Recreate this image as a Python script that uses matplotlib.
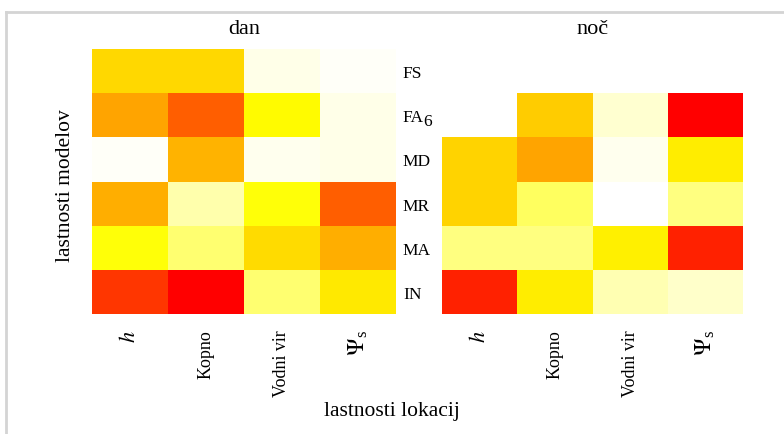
import numpy as np
import matplotlib
matplotlib.use("Agg")
import matplotlib.pyplot as plt
from matplotlib.colors import LinearSegmentedColormap
from matplotlib.lines import Line2D

plt.rcParams["font.family"] = ["Liberation Serif", "DejaVu Serif"]
plt.rcParams["mathtext.fontset"] = "stix"

# model properties (rows, top to bottom) and location properties (columns)
models = ["FS", "FA6", "MD", "MR", "MA", "IN"]
locations = [r"$h$", "Kopno", "Vodni vir", r"$\Psi_{\mathregular{s}}$"]

# relative importance, day
dan = [
    [0.41, 0.41, 0.03, 0.01],
    [0.55, 0.74, 0.31, 0.03],
    [0.01, 0.51, 0.02, 0.03],
    [0.52, 0.10, 0.29, 0.74],
    [0.29, 0.17, 0.40, 0.52],
    [0.85, 1.00, 0.17, 0.36],
]

# relative importance, night (missing combinations left empty)
noc = [
    [np.nan, np.nan, np.nan, np.nan],
    [np.nan, 0.44, 0.055, 1.00],
    [0.42, 0.55, 0.02, 0.35],
    [0.42, 0.19, 0.00, 0.15],
    [0.15, 0.15, 0.34, 0.91],
    [0.91, 0.35, 0.09, 0.065],
]

panel_titles = ["dan", "noč"]

# reversed heat palette: white -> yellow -> red
heat = LinearSegmentedColormap.from_list(
    "heat_r", [(0.0, "#FFFFFF"), (0.3, "#FFFF00"), (1.0, "#FF0000")]
)

W, H = 784, 435
fig = plt.figure(figsize=(W / 100, H / 100), dpi=100)

def frac(x0, y0, x1, y1):
    return [x0 / W, 1 - y1 / H, (x1 - x0) / W, (y1 - y0) / H]

axes = [
    fig.add_axes(frac(92, 50, 396, 315)),
    fig.add_axes(frac(442, 50, 743, 315)),
]

label_sizes = [16, 13, 13, 17]

for k, (ax, data, title) in enumerate(zip(axes, [dan, noc], panel_titles)):
    arr = np.ma.masked_invalid(np.array(data, dtype=float))
    ax.pcolormesh(arr, cmap=heat, vmin=0, vmax=1, edgecolor="none")
    ax.set_xlim(0, len(locations))
    ax.set_ylim(len(models), 0)
    for s in ax.spines.values():
        s.set_visible(False)
    ax.set_xticks(np.arange(len(locations)) + 0.5)
    ax.set_xticklabels(locations, rotation=90, va="top", ha="center")
    for lab, fs in zip(ax.get_xticklabels(), label_sizes):
        lab.set_fontsize(fs)
    ax.tick_params(axis="x", length=0, pad=11)
    ax.set_yticks([])
    if k == 0:
        # row labels to the right of the day panel; digit in FA6 set lower
        for i, name in enumerate(models):
            main = name[:-1] if name[-1].isdigit() else name
            t = ax.annotate(main, xy=(1, i + 0.5),
                            xycoords=("axes fraction", "data"),
                            xytext=(5, 0), textcoords="offset points",
                            fontsize=12.5, ha="left", va="center_baseline")
            if main != name:
                ax.annotate(name[-1], xy=(1, 0), xycoords=t,
                            xytext=(-0.5, 0), textcoords="offset points",
                            fontsize=12.5, ha="left", va="baseline")
    fig.text((ax.get_position().x0 + ax.get_position().x1) / 2, 1 - 30 / H,
             title, fontsize=16, ha="center", va="center")

fig.text(66 / W, 1 - 186 / H, "lastnosti modelov", rotation=90,
         fontsize=15.5, ha="center", va="center")
fig.text(392 / W, 1 - 412 / H, "lastnosti lokacij",
         fontsize=15.5, ha="center", va="center")

# light frame around the figure area
fig.add_artist(Line2D([6 / W, 6 / W], [0, 1 - 13 / H], color="#D4D4D4", lw=2,
                      transform=fig.transFigure))
fig.add_artist(Line2D([6 / W, 1], [1 - 13 / H, 1 - 13 / H], color="#D4D4D4", lw=2,
                      transform=fig.transFigure))

fig.savefig("out.png", dpi=100)
